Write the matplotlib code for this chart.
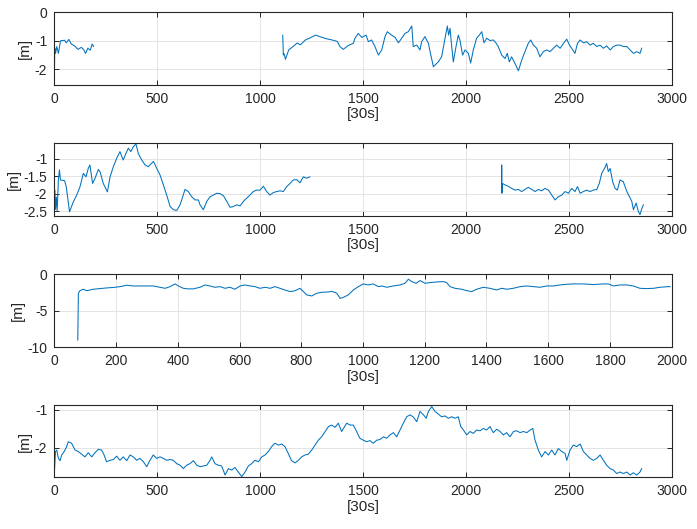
import numpy as np
from matplotlib import pyplot as plt

plt.rcParams['font.family'] = ['Liberation Sans', 'DejaVu Sans']
plt.rcParams['axes.unicode_minus'] = False

# panel 1 : two pieces of track
p1_x_a = [0, 2, 6, 12, 20, 30, 50, 58, 71, 82, 99, 115, 131, 142, 152, 163, 175, 184, 191]
p1_y_a = [-2.55, -1.25, -1.44, -1.2, -1.44, -1.0, -0.98, -1.07, -0.95, -1.11, -1.18, -1.3,
          -1.23, -1.3, -1.44, -1.26, -1.33, -1.11, -1.2]
p1_x_b = [1110, 1113, 1117, 1123, 1139, 1155, 1180, 1196, 1220, 1245, 1269, 1294, 1318, 1350,
          1375, 1388, 1404, 1429, 1453, 1461, 1477, 1494, 1515, 1526, 1542, 1558, 1575, 1591,
          1607, 1618, 1639, 1656, 1672, 1688, 1704, 1720, 1737, 1744, 1761, 1777, 1785, 1801,
          1818, 1826, 1842, 1850, 1866, 1882, 1894, 1903, 1910, 1916, 1923, 1931, 1939, 1952,
          1963, 1971, 1984, 1996, 2012, 2023, 2036, 2052, 2065, 2077, 2088, 2101, 2117, 2133,
          2146, 2157, 2174, 2190, 2201, 2211, 2222, 2239, 2255, 2271, 2287, 2303, 2315, 2328,
          2344, 2360, 2376, 2393, 2409, 2425, 2441, 2458, 2474, 2490, 2503, 2514, 2530, 2542,
          2555, 2571, 2587, 2603, 2619, 2636, 2652, 2668, 2684, 2701, 2717, 2733, 2749, 2765,
          2782, 2798, 2814, 2830, 2846, 2854]
p1_y_b = [-0.8, -1.5, -1.45, -1.65, -1.32, -1.23, -1.08, -1.14, -0.97, -0.89, -0.8, -0.86,
          -0.92, -0.97, -1.02, -1.2, -1.3, -1.16, -1.09, -0.91, -0.74, -0.88, -0.8, -1.03,
          -0.97, -1.2, -1.5, -1.32, -0.85, -0.68, -0.8, -0.88, -1.07, -0.91, -0.74, -0.68,
          -0.48, -1.2, -1.15, -1.32, -1.03, -0.85, -1.09, -1.38, -1.91, -1.85, -1.74, -1.56,
          -1.09, -0.74, -0.48, -0.8, -0.56, -1.2, -1.74, -1.2, -0.8, -0.97, -1.5, -1.32,
          -1.44, -1.78, -1.32, -0.91, -0.8, -0.68, -1.07, -0.91, -0.99, -0.97, -1.07, -1.2,
          -1.5, -1.62, -1.44, -1.74, -1.56, -1.8, -2.05, -1.68, -1.38, -1.09, -0.97, -1.15,
          -1.26, -1.56, -1.38, -1.32, -1.38, -1.26, -1.15, -1.26, -1.09, -0.94, -1.15, -1.26,
          -1.44, -1.09, -0.97, -1.07, -1.03, -1.15, -1.09, -1.2, -1.15, -1.26, -1.18, -1.32,
          -1.2, -1.15, -1.15, -1.2, -1.2, -1.32, -1.44, -1.38, -1.44, -1.26]

# panel 2
p2_x_a = [0, 3, 6, 10, 14, 20, 25, 30, 50, 58, 74, 92, 109, 125, 141, 154, 165, 173, 186,
          198, 214, 222, 238, 258, 271, 287, 303, 319, 335, 348, 360, 372, 384, 397, 408,
          425, 441, 457, 473, 482, 498, 514, 530, 546, 563, 579, 595, 611, 624, 635, 651,
          668, 684, 700, 708, 724, 741, 757, 773, 789, 805, 822, 838, 854, 870, 886, 903,
          919, 935, 951, 967, 983, 1000, 1016, 1032, 1048, 1064, 1081, 1097, 1113, 1129,
          1145, 1161, 1178, 1194, 1210, 1226, 1242]
p2_y_a = [-2.55, -1.9, -2.45, -2.1, -2.5, -1.6, -1.32, -1.61, -1.63, -1.8, -2.52, -2.24,
          -2.04, -1.8, -1.42, -1.52, -1.28, -1.18, -1.71, -1.56, -1.31, -1.37, -1.71, -1.95,
          -1.52, -1.23, -0.99, -0.8, -1.04, -0.85, -0.7, -0.8, -0.66, -0.58, -0.85, -1.04,
          -1.18, -1.23, -1.13, -1.08, -1.28, -1.47, -1.75, -2.04, -2.37, -2.46, -2.48, -2.32,
          -2.09, -1.88, -1.94, -2.09, -2.18, -2.18, -2.32, -2.46, -2.22, -2.09, -2.04, -1.99,
          -2.0, -2.06, -2.22, -2.39, -2.37, -2.32, -2.35, -2.22, -2.13, -2.04, -1.94, -1.9,
          -1.9, -1.79, -1.94, -2.04, -1.97, -1.94, -1.92, -1.94, -1.8, -1.71, -1.61, -1.6,
          -1.69, -1.52, -1.56, -1.52]
p2_x_b = [2173, 2174, 2175, 2178, 2190, 2206, 2222, 2239, 2255, 2271, 2287, 2303, 2320, 2336,
          2352, 2368, 2384, 2401, 2417, 2433, 2449, 2466, 2482, 2498, 2514, 2530, 2542, 2555,
          2571, 2587, 2603, 2619, 2636, 2648, 2660, 2676, 2684, 2692, 2701, 2713, 2725, 2736,
          2749, 2765, 2782, 2795, 2806, 2814, 2827, 2838, 2846, 2854, 2862]
p2_y_b = [-1.95, -1.18, -1.99, -1.71, -1.75, -1.79, -1.85, -1.9, -1.88, -1.94, -1.88, -1.82,
          -1.88, -1.94, -1.88, -1.92, -1.85, -1.9, -2.04, -2.18, -2.09, -2.04, -1.94, -1.99,
          -1.85, -1.94, -1.8, -1.99, -1.94, -1.9, -1.94, -1.9, -1.88, -1.71, -1.42, -1.25,
          -1.14, -1.37, -1.28, -1.66, -1.85, -1.9, -1.61, -1.66, -1.94, -2.09, -2.22, -2.46,
          -2.27, -2.51, -2.6, -2.44, -2.32]

# panel 3
p3_x = [76, 78, 83, 94, 105, 126, 148, 170, 197, 213, 235, 256, 288, 321, 342, 359, 375,
        391, 402, 418, 434, 450, 472, 488, 504, 520, 537, 553, 569, 585, 602, 618, 634, 650,
        666, 683, 699, 715, 731, 747, 764, 780, 796, 807, 818, 834, 850, 866, 888, 899, 915,
        926, 937, 952, 969, 985, 1001, 1017, 1033, 1050, 1061, 1077, 1098, 1120, 1136, 1147,
        1158, 1172, 1185, 1201, 1217, 1239, 1260, 1271, 1282, 1298, 1320, 1336, 1352, 1368,
        1390, 1411, 1433, 1449, 1466, 1487, 1509, 1530, 1552, 1573, 1595, 1617, 1638, 1660,
        1682, 1714, 1746, 1778, 1795, 1811, 1833, 1854, 1876, 1897, 1919, 1941, 1962, 1989,
        1995]
p3_y = [-9.0, -2.6, -2.25, -2.05, -2.25, -2.05, -1.96, -1.87, -1.78, -1.69, -1.5, -1.6,
        -1.6, -1.6, -1.78, -1.92, -1.69, -1.32, -1.6, -1.92, -2.0, -2.0, -1.78, -1.46, -1.6,
        -1.78, -1.69, -1.92, -1.78, -2.05, -1.6, -1.46, -1.6, -1.69, -1.92, -1.78, -1.92,
        -1.69, -1.92, -2.15, -2.37, -2.25, -1.92, -2.37, -2.83, -2.97, -2.6, -2.47, -2.42,
        -2.33, -2.6, -3.3, -3.15, -2.83, -2.15, -1.69, -1.32, -1.46, -1.32, -1.69, -1.6,
        -1.78, -1.6, -1.46, -1.23, -0.68, -1.0, -1.23, -0.86, -1.23, -1.14, -1.05, -1.0,
        -1.14, -1.69, -1.92, -2.05, -2.24, -2.37, -2.05, -1.78, -1.92, -2.15, -1.92, -2.05,
        -1.92, -1.69, -1.6, -1.69, -1.78, -1.6, -1.6, -1.46, -1.37, -1.32, -1.32, -1.41,
        -1.32, -1.32, -1.6, -1.46, -1.46, -1.6, -1.92, -1.96, -1.92, -1.78, -1.69, -1.7]

# panel 4
p4_x = [0, 1, 6, 12, 20, 28, 36, 48, 60, 68, 84, 101, 117, 133, 149, 165, 182, 198, 214,
        230, 242, 254, 271, 287, 303, 319, 335, 352, 368, 384, 400, 416, 433, 449, 465, 481,
        497, 514, 530, 546, 562, 578, 595, 611, 627, 643, 659, 676, 692, 708, 724, 741, 757,
        765, 781, 797, 813, 830, 846, 862, 878, 894, 911, 927, 943, 959, 975, 992, 1008,
        1024, 1040, 1056, 1072, 1089, 1105, 1121, 1137, 1153, 1170, 1186, 1202, 1218, 1234,
        1251, 1267, 1283, 1299, 1316, 1332, 1348, 1364, 1380, 1396, 1413, 1421, 1437, 1453,
        1469, 1485, 1502, 1518, 1534, 1550, 1567, 1583, 1599, 1615, 1631, 1648, 1664, 1680,
        1696, 1712, 1729, 1745, 1761, 1777, 1794, 1807, 1818, 1834, 1850, 1866, 1882, 1899,
        1915, 1931, 1947, 1963, 1975, 1988, 2004, 2020, 2036, 2052, 2069, 2085, 2101, 2117,
        2133, 2150, 2166, 2182, 2198, 2214, 2231, 2247, 2263, 2279, 2296, 2312, 2325, 2336,
        2352, 2368, 2385, 2401, 2417, 2433, 2449, 2466, 2482, 2490, 2506, 2522, 2538, 2555,
        2571, 2587, 2603, 2619, 2636, 2652, 2668, 2684, 2701, 2717, 2733, 2749, 2765, 2782,
        2798, 2814, 2830, 2846, 2854]
p4_y = [-2.78, -2.59, -2.1, -2.06, -2.28, -2.34, -2.19, -2.1, -1.97, -1.84, -1.88, -2.06,
        -2.1, -2.17, -2.24, -2.13, -2.24, -2.13, -2.04, -2.06, -2.19, -2.37, -2.33, -2.31,
        -2.22, -2.33, -2.24, -2.34, -2.19, -2.24, -2.33, -2.28, -2.37, -2.5, -2.33, -2.19,
        -2.28, -2.24, -2.28, -2.33, -2.31, -2.33, -2.42, -2.46, -2.55, -2.46, -2.42, -2.34,
        -2.46, -2.5, -2.48, -2.46, -2.33, -2.24, -2.42, -2.46, -2.48, -2.72, -2.55, -2.59,
        -2.52, -2.64, -2.76, -2.64, -2.48, -2.42, -2.33, -2.37, -2.24, -2.19, -2.1, -1.97,
        -1.88, -1.93, -1.9, -1.97, -2.15, -2.34, -2.4, -2.33, -2.24, -2.19, -2.17, -2.06,
        -1.93, -1.8, -1.71, -1.57, -1.44, -1.4, -1.46, -1.35, -1.57, -1.42, -1.35, -1.4,
        -1.4, -1.57, -1.75, -1.8, -1.84, -1.81, -1.88, -1.8, -1.78, -1.71, -1.75, -1.66,
        -1.6, -1.71, -1.53, -1.35, -1.18, -1.13, -1.19, -1.31, -1.04, -1.13, -1.22, -1.04,
        -0.91, -1.04, -1.11, -1.18, -1.16, -1.22, -1.18, -1.22, -1.18, -1.44, -1.53, -1.66,
        -1.57, -1.62, -1.53, -1.55, -1.49, -1.53, -1.44, -1.6, -1.51, -1.57, -1.66, -1.6,
        -1.71, -1.57, -1.55, -1.6, -1.57, -1.6, -1.53, -1.49, -1.8, -2.06, -2.24, -2.1,
        -2.19, -2.06, -2.19, -2.02, -2.1, -2.15, -2.33, -2.06, -1.93, -1.97, -1.9, -2.1,
        -2.19, -2.28, -2.33, -2.28, -2.19, -2.33, -2.46, -2.55, -2.59, -2.68, -2.64, -2.68,
        -2.64, -2.72, -2.66, -2.72, -2.64, -2.55]

panels = [
    ([(p1_x_a, p1_y_a), (p1_x_b, p1_y_b)], (0, 3000), (-2.55, 0), [0, -1, -2]),
    ([(p2_x_a, p2_y_a), (p2_x_b, p2_y_b)], (0, 3000), (-2.63, -0.56), [-1, -1.5, -2, -2.5]),
    ([(p3_x, p3_y)], (0, 2000), (-10, 0), [0, -5, -10]),
    ([(p4_x, p4_y)], (0, 3000), (-2.78, -0.87), [-1, -2]),
]
positions = [
    [0.0779, 0.8393, 0.8858, 0.1374],
    [0.0779, 0.5923, 0.8858, 0.1369],
    [0.0779, 0.3435, 0.8858, 0.1380],
    [0.0779, 0.0977, 0.8858, 0.1367],
]

axcol = '#262626'
fig = plt.figure(figsize=(6.97, 5.29), dpi=100)
for (segs, xl, yl, yt), pos in zip(panels, positions):
    ax = fig.add_axes(pos)
    for xs, ys in segs:
        ax.plot(xs, ys, color='#0072BD', linewidth=0.75)
    ax.set_xlim(xl)
    ax.set_ylim(yl)
    ax.set_yticks(yt)
    ax.set_yticklabels([f"{v:g}" for v in yt])
    if xl[1] == 2000:
        ax.set_xticks(np.arange(0, 2001, 200))
    else:
        ax.set_xticks(np.arange(0, 3001, 500))
    ax.grid(True, color='#e4e4e4', linewidth=0.7)
    ax.set_axisbelow(True)
    ax.tick_params(direction='in', length=3.5, width=0.7, top=True, right=True,
                   labelsize=10, colors=axcol, pad=5)
    for s in ax.spines.values():
        s.set_color(axcol)
        s.set_linewidth(0.8)
    ax.set_xlabel('[30s]', fontsize=11, color=axcol, labelpad=1)
    ax.set_ylabel('[m]', fontsize=11, color=axcol, labelpad=2)

fig.savefig('out.png', dpi=100)
